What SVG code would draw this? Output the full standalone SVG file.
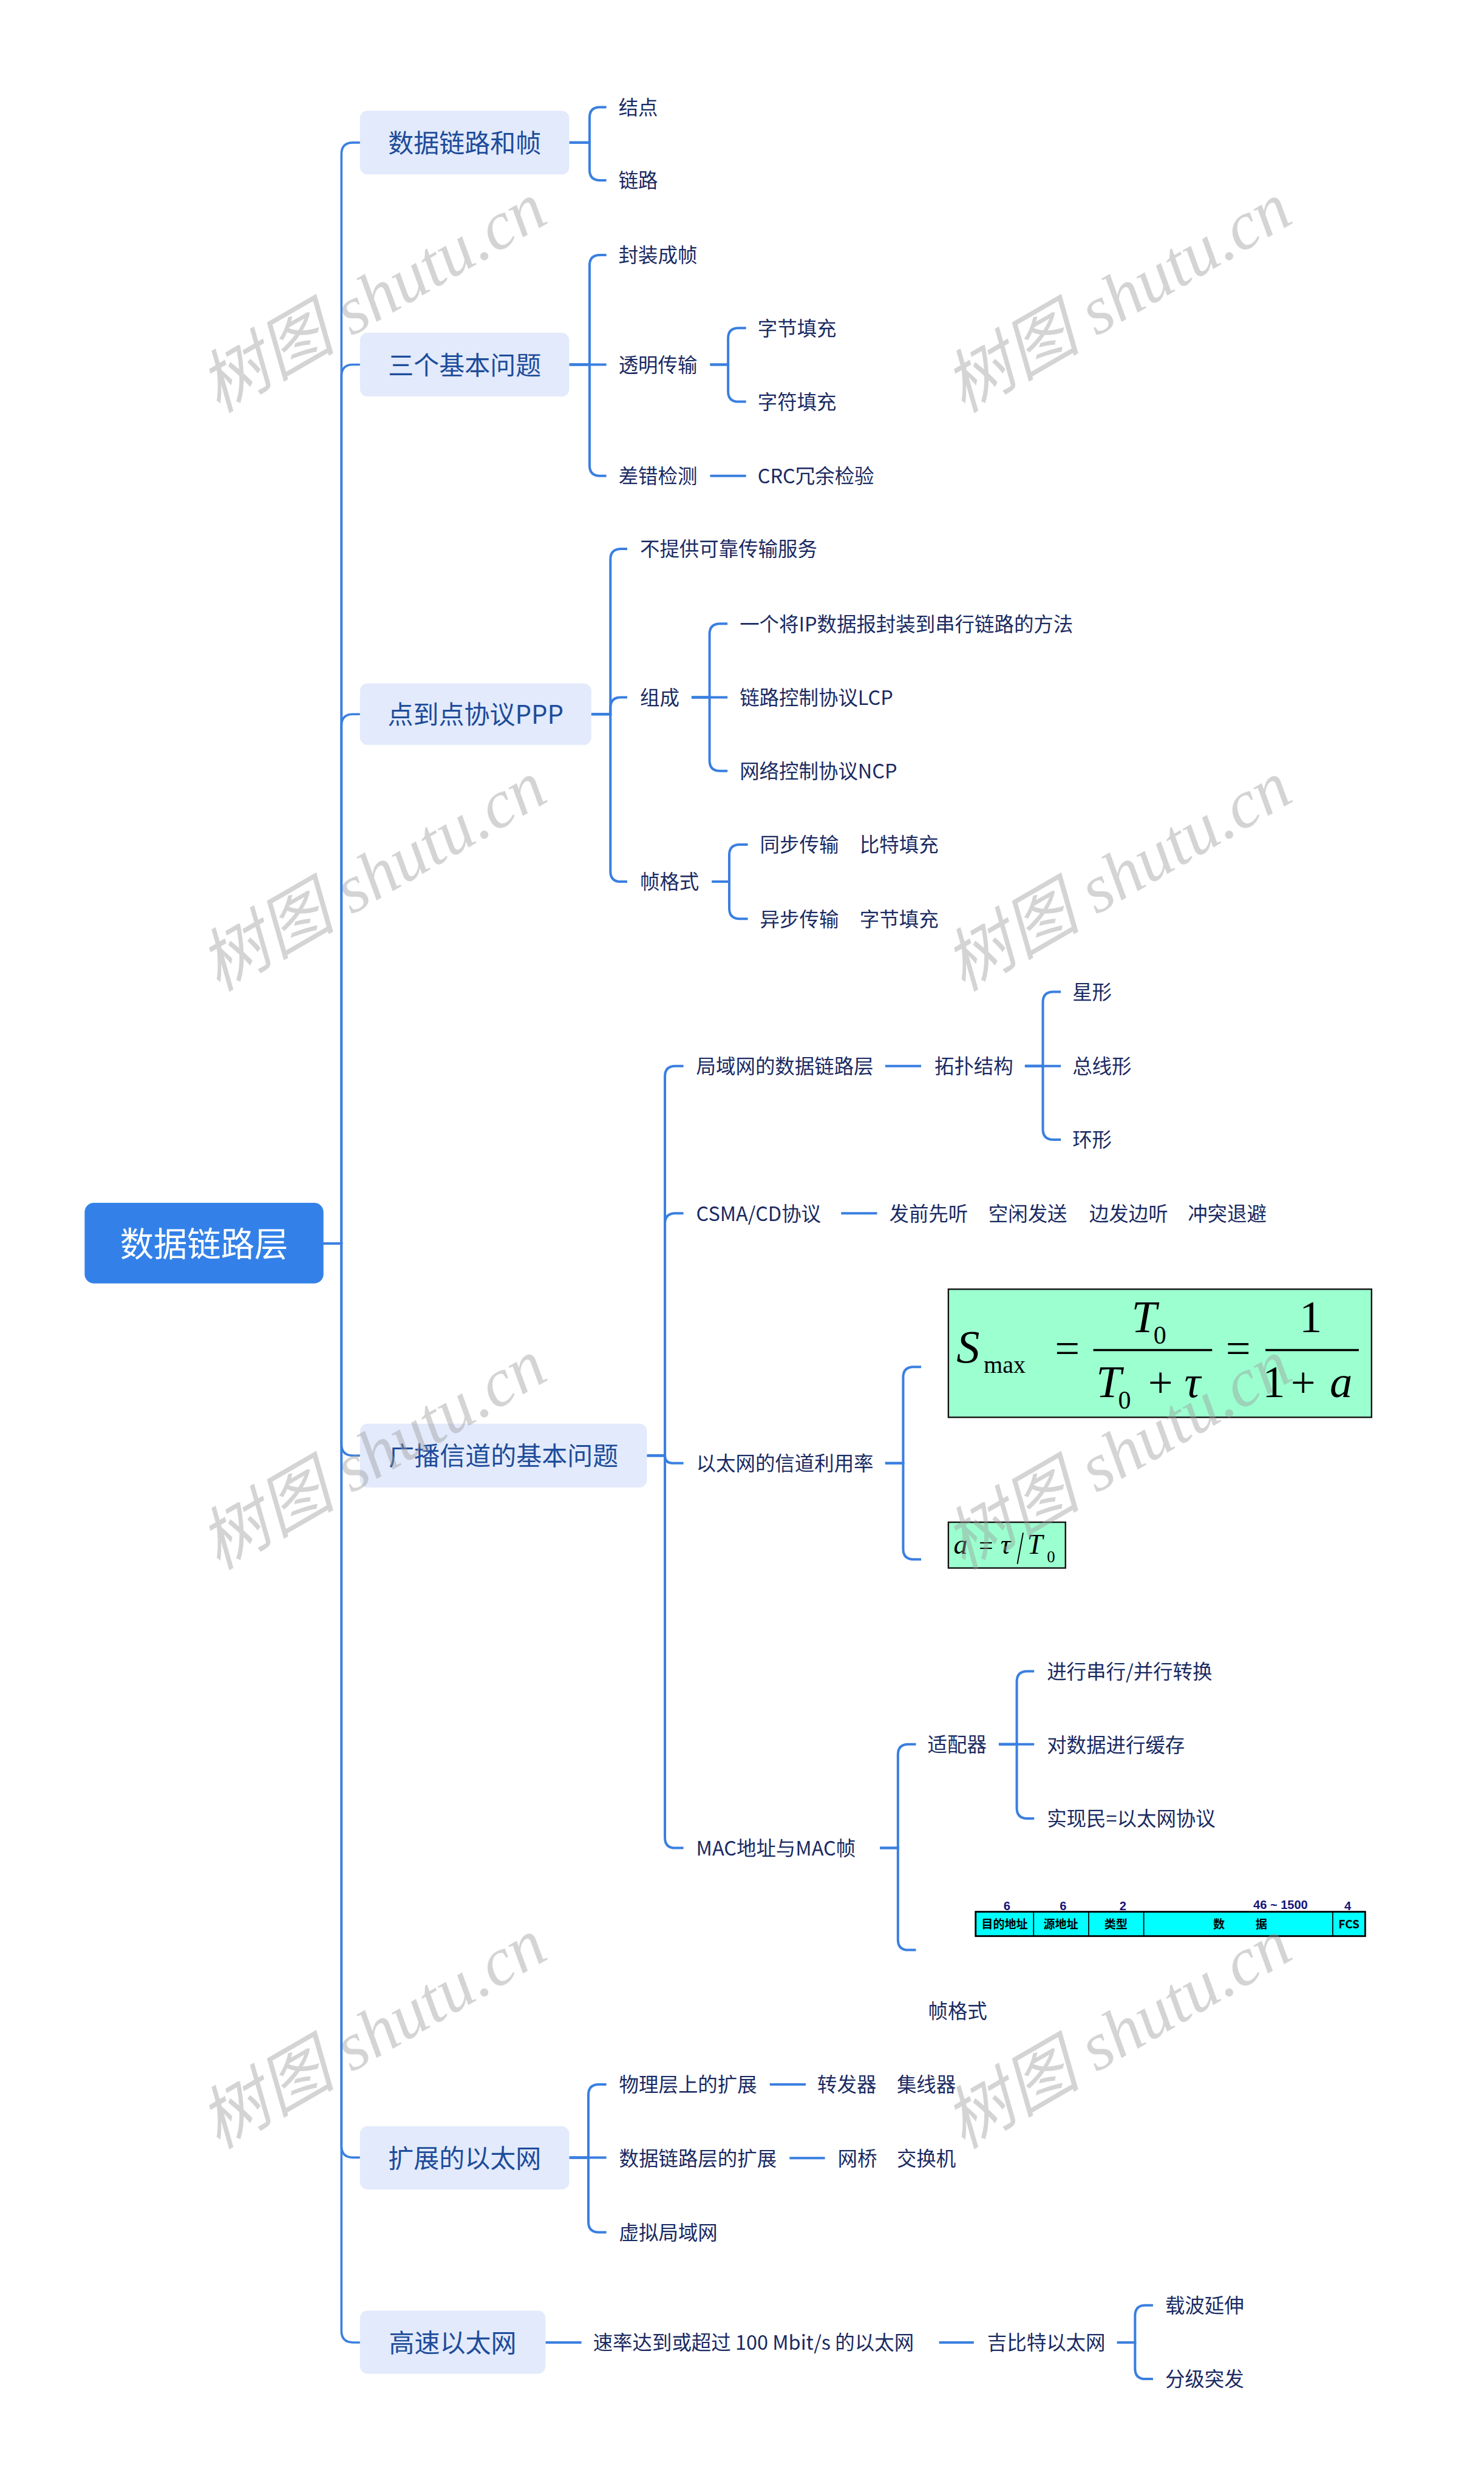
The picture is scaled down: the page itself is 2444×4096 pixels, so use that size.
<svg xmlns="http://www.w3.org/2000/svg" width="2444" height="4096" viewBox="0 0 2444 4096">
<style>
.bg{fill:#ffffff}
.root{fill:#3381E8}
.rt{font-family:"Noto Sans CJK SC","Noto Sans",sans-serif;font-size:58px;fill:#ffffff}
.l1{fill:#E2EAFB}
.l1t{font-family:"Noto Sans CJK SC","Noto Sans",sans-serif;font-size:44px;fill:#1e4c9a}
.t{font-family:"Noto Sans CJK SC","Noto Sans",sans-serif;font-size:34px;fill:#1a2a62}
.c{fill:none;stroke:#3A7FE0;stroke-width:4.2}
.tr{fill:none;stroke:#3A7FE0;stroke-width:3.8}
.fbox{fill:#9CFFD0;stroke:#111111;stroke-width:2.5}
.mi{font-family:"Liberation Serif",serif;font-style:italic;fill:#000}
.mr{font-family:"Liberation Serif",serif;fill:#000}
.bar{stroke:#000;stroke-width:3.5}
.cell{fill:#00FFFF;stroke:#000;stroke-width:3}
.sep{stroke:#000;stroke-width:1.8}
.ct{font-family:"Noto Sans CJK SC",sans-serif;font-weight:bold;font-size:20px;fill:#000;text-anchor:middle}
.num{font-family:"Liberation Sans","Noto Sans CJK SC",sans-serif;font-weight:bold;font-size:21px;fill:#141478}
.wm{font-family:"Liberation Serif","Noto Sans CJK SC",serif;font-style:italic;font-size:118px;fill:#9a9a9a;opacity:0.42;text-anchor:middle}
</style>
<rect class="bg" x="0" y="0" width="2444" height="4096"/>
<g transform="scale(0.9547)">
<g id="connectors">
<path class="tr" d="M558,2145 H589 V266 Q589,246 609,246 H621"/>
<path class="tr" d="M558,2145 H589 V649 Q589,629 609,629 H621"/>
<path class="tr" d="M558,2145 H589 V1252 Q589,1232 609,1232 H621"/>
<path class="tr" d="M558,2145 H589 V2491 Q589,2511 609,2511 H621"/>
<path class="tr" d="M558,2145 H589 V3702 Q589,3722 609,3722 H621"/>
<path class="tr" d="M558,2145 H589 V4021 Q589,4041 609,4041 H621"/>
<path class="c" d="M982,246 H1017 V203 Q1017,185 1035,185 H1046"/>
<path class="c" d="M982,246 H1017 V293 Q1017,311 1035,311 H1046"/>
<path class="c" d="M982,629 H1017 V458 Q1017,440 1035,440 H1046"/>
<path class="c" d="M982,629 H1046"/>
<path class="c" d="M982,629 H1017 V803 Q1017,821 1035,821 H1046"/>
<path class="c" d="M1225,629 H1256 V584 Q1256,566 1274,566 H1287"/>
<path class="c" d="M1225,629 H1256 V675 Q1256,693 1274,693 H1287"/>
<path class="c" d="M1225,821 H1287"/>
<path class="c" d="M1020,1232 H1053 V965 Q1053,947 1071,947 H1082"/>
<path class="c" d="M1020,1232 H1053 V1221 Q1053,1203 1071,1203 H1082"/>
<path class="c" d="M1020,1232 H1053 V1503 Q1053,1521 1071,1521 H1082"/>
<path class="c" d="M1193,1203 H1224 V1094 Q1224,1076 1242,1076 H1255"/>
<path class="c" d="M1193,1203 H1255"/>
<path class="c" d="M1193,1203 H1224 V1312 Q1224,1330 1242,1330 H1255"/>
<path class="c" d="M1228,1521 H1258 V1475 Q1258,1457 1276,1457 H1290"/>
<path class="c" d="M1228,1521 H1258 V1567 Q1258,1585 1276,1585 H1290"/>
<path class="c" d="M1116,2511 H1147 V1857 Q1147,1839 1165,1839 H1179"/>
<path class="c" d="M1116,2511 H1147 V2111 Q1147,2093 1165,2093 H1179"/>
<path class="c" d="M1116,2511 H1147 Q1147,2524 1160,2524 H1179"/>
<path class="c" d="M1116,2511 H1147 V3170 Q1147,3188 1165,3188 H1179"/>
<path class="c" d="M1527,1839 H1589"/>
<path class="c" d="M1768,1839 H1799 V1729 Q1799,1711 1817,1711 H1830"/>
<path class="c" d="M1768,1839 H1830"/>
<path class="c" d="M1768,1839 H1799 V1948 Q1799,1966 1817,1966 H1830"/>
<path class="c" d="M1451,2093 H1513"/>
<path class="c" d="M1527,2524 H1558 V2376 Q1558,2358 1576,2358 H1589"/>
<path class="c" d="M1527,2524 H1558 V2672 Q1558,2690 1576,2690 H1589"/>
<path class="c" d="M1518,3188 H1549 V3027 Q1549,3009 1567,3009 H1580"/>
<path class="c" d="M1518,3188 H1549 V3346 Q1549,3364 1567,3364 H1580"/>
<path class="c" d="M1723,3009 H1754 V2901 Q1754,2883 1772,2883 H1784"/>
<path class="c" d="M1723,3009 H1784"/>
<path class="c" d="M1723,3009 H1754 V3119 Q1754,3137 1772,3137 H1784"/>
<path class="c" d="M982,3722 H1015 V3614 Q1015,3596 1033,3596 H1046"/>
<path class="c" d="M982,3722 H1046"/>
<path class="c" d="M982,3722 H1015 V3833 Q1015,3851 1033,3851 H1046"/>
<path class="c" d="M1328,3596 H1390"/>
<path class="c" d="M1362,3723 H1423"/>
<path class="c" d="M941,4041 H1003"/>
<path class="c" d="M1620,4041 H1680"/>
<path class="c" d="M1927,4041 H1958 V3995 Q1958,3977 1976,3977 H1989"/>
<path class="c" d="M1927,4041 H1958 V4086 Q1958,4104 1976,4104 H1989"/>
</g>

<g id="root"><rect class="root" x="146" y="2075" width="412" height="139" rx="16"/><text class="rt" x="352" y="2167" text-anchor="middle">数据链路层</text></g>

<g id="n1"><rect class="l1" x="621" y="191" width="361" height="110" rx="13"/><text class="l1t" x="801.5" y="263" text-anchor="middle">数据链路和帧</text></g>
<g id="n1a"><text class="t" x="1067" y="198">结点</text></g>
<g id="n1b"><text class="t" x="1067" y="324">链路</text></g>

<g id="n2"><rect class="l1" x="621" y="574" width="361" height="110" rx="13"/><text class="l1t" x="801.5" y="646" text-anchor="middle">三个基本问题</text></g>
<g id="n2a"><text class="t" x="1067" y="453">封装成帧</text></g>
<g id="n2b"><text class="t" x="1067" y="642">透明传输</text></g>
<g id="n2b1"><text class="t" x="1307" y="579">字节填充</text></g>
<g id="n2b2"><text class="t" x="1307" y="706">字符填充</text></g>
<g id="n2c"><text class="t" x="1067" y="834">差错检测</text></g>
<g id="n2c1"><text class="t" x="1307" y="834">CRC冗余检验</text></g>

<g id="n3"><rect class="l1" x="621" y="1179" width="399" height="106" rx="13"/><text class="l1t" x="820.5" y="1249" text-anchor="middle">点到点协议PPP</text></g>
<g id="n3a"><text class="t" x="1104" y="960">不提供可靠传输服务</text></g>
<g id="n3b"><text class="t" x="1104" y="1216">组成</text></g>
<g id="n3b1"><text class="t" x="1276" y="1089">一个将IP数据报封装到串行链路的方法</text></g>
<g id="n3b2"><text class="t" x="1276" y="1216">链路控制协议LCP</text></g>
<g id="n3b3"><text class="t" x="1276" y="1343">网络控制协议NCP</text></g>
<g id="n3c"><text class="t" x="1104" y="1534">帧格式</text></g>
<g id="n3c1"><text class="t" x="1311" y="1470">同步传输 <tspan x="1483">比特填充</tspan></text></g>
<g id="n3c2"><text class="t" x="1311" y="1598">异步传输 <tspan x="1483">字节填充</tspan></text></g>

<g id="n4"><rect class="l1" x="621" y="2456" width="495" height="110" rx="13"/><text class="l1t" x="868.5" y="2528" text-anchor="middle">广播信道的基本问题</text></g>
<g id="n4a"><text class="t" x="1201" y="1852">局域网的数据链路层</text></g>
<g id="n4a1"><text class="t" x="1612" y="1852">拓扑结构</text></g>
<g id="n4a1a"><text class="t" x="1850" y="1724">星形</text></g>
<g id="n4a1b"><text class="t" x="1850" y="1852">总线形</text></g>
<g id="n4a1c"><text class="t" x="1850" y="1979">环形</text></g>
<g id="n4b"><text class="t" x="1201" y="2106">CSMA/CD协议</text></g>
<g id="n4b1"><text class="t" x="1534" y="2106">发前先听 <tspan x="1705">空闲发送</tspan> <tspan x="1879">边发边听</tspan> <tspan x="2049">冲突退避</tspan></text></g>
<g id="n4c"><text class="t" x="1201" y="2537">以太网的信道利用率</text></g>
<g id="n4c1">
<rect class="fbox" x="1636" y="2224" width="730" height="221"/>
<text class="mi" x="1650" y="2350" font-size="80">S</text>
<text class="mr" x="1697" y="2368" font-size="42">max</text>
<text class="mr" x="1841" y="2352" font-size="76" text-anchor="middle">=</text>
<line class="bar" x1="1886" y1="2329" x2="2091" y2="2329"/>
<text class="mi" x="1952" y="2298" font-size="78">T</text>
<text class="mr" x="1990" y="2318" font-size="44">0</text>
<text class="mi" x="1891" y="2410" font-size="78">T</text>
<text class="mr" x="1929" y="2430" font-size="44">0</text>
<text class="mr" x="2002" y="2410" font-size="76" text-anchor="middle">+</text>
<text class="mi" x="2043" y="2410" font-size="78">τ</text>
<text class="mr" x="2136" y="2352" font-size="76" text-anchor="middle">=</text>
<line class="bar" x1="2183" y1="2329" x2="2344" y2="2329"/>
<text class="mr" x="2261" y="2298" font-size="78" text-anchor="middle">1</text>
<text class="mr" x="2178" y="2410" font-size="78">1</text>
<text class="mr" x="2248" y="2410" font-size="76" text-anchor="middle">+</text>
<text class="mi" x="2294" y="2410" font-size="78">a</text>
</g>
<g id="n4c2">
<rect class="fbox" x="1636" y="2626" width="202" height="79"/>
<text class="mi" x="1645" y="2680" font-size="48">a</text>
<text class="mr" x="1701" y="2680" font-size="44" text-anchor="middle">=</text>
<text class="mi" x="1726" y="2680" font-size="48">τ</text>
<line x1="1765" y1="2644" x2="1755" y2="2698" stroke="#000" stroke-width="2"/>
<text class="mi" x="1772" y="2680" font-size="48">T</text>
<text class="mr" x="1806" y="2695" font-size="28">0</text>
</g>
<g id="n4d"><text class="t" x="1201" y="3201">MAC地址与MAC帧</text></g>
<g id="n4d1"><text class="t" x="1600" y="3022">适配器</text></g>
<g id="n4d1a"><text class="t" x="1806" y="2896">进行串行/并行转换</text></g>
<g id="n4d1b"><text class="t" x="1806" y="3023">对数据进行缓存</text></g>
<g id="n4d1c"><text class="t" x="1806" y="3150">实现民=以太网协议</text></g>
<g id="n4d2">
<text class="num" x="1737" y="3295" text-anchor="middle">6</text>
<text class="num" x="1834" y="3295" text-anchor="middle">6</text>
<text class="num" x="1937" y="3295" text-anchor="middle">2</text>
<text class="num" x="2162" y="3293">46 ~ 1500</text>
<text class="num" x="2325" y="3295" text-anchor="middle">4</text>
<rect class="cell" x="1683" y="3298" width="672" height="42"/>
<line class="sep" x1="1783" y1="3298" x2="1783" y2="3340"/>
<line class="sep" x1="1878" y1="3298" x2="1878" y2="3340"/>
<line class="sep" x1="1973" y1="3298" x2="1973" y2="3340"/>
<line class="sep" x1="2299" y1="3298" x2="2299" y2="3340"/>
<text class="ct" x="1733" y="3327">目的地址</text>
<text class="ct" x="1830" y="3327">源地址</text>
<text class="ct" x="1925" y="3327">类型</text>
<text class="ct" x="2105" y="3327">数 <tspan x="2176">据</tspan></text>
<text class="ct" x="2327" y="3327">FCS</text>
<text class="t" x="1601" y="3482">帧格式</text>
</g>

<g id="n5"><rect class="l1" x="621" y="3668" width="361" height="109" rx="13"/><text class="l1t" x="801.5" y="3739" text-anchor="middle">扩展的以太网</text></g>
<g id="n5a"><text class="t" x="1068" y="3609">物理层上的扩展</text></g>
<g id="n5a1"><text class="t" x="1410" y="3609">转发器 <tspan x="1547">集线器</tspan></text></g>
<g id="n5b"><text class="t" x="1068" y="3736">数据链路层的扩展</text></g>
<g id="n5b1"><text class="t" x="1445" y="3736">网桥 <tspan x="1547">交换机</tspan></text></g>
<g id="n5c"><text class="t" x="1068" y="3864">虚拟局域网</text></g>

<g id="n6"><rect class="l1" x="621" y="3986" width="320" height="109" rx="13"/><text class="l1t" x="781" y="4058" text-anchor="middle">高速以太网</text></g>
<g id="n6a"><text class="t" x="1023" y="4054">速率达到或超过 100 Mbit/s 的以太网</text></g>
<g id="n6a1"><text class="t" x="1703" y="4054">吉比特以太网</text></g>
<g id="n6a1a"><text class="t" x="2010" y="3990">载波延伸</text></g>
<g id="n6a1b"><text class="t" x="2010" y="4117">分级突发</text></g>

<g id="watermarks">
<text class="wm" transform="translate(643,513) rotate(-30)" x="0" y="40">树图 shutu.cn</text>
<text class="wm" transform="translate(1928,513) rotate(-30)" x="0" y="40">树图 shutu.cn</text>
<text class="wm" transform="translate(643,1511) rotate(-30)" x="0" y="40">树图 shutu.cn</text>
<text class="wm" transform="translate(1928,1511) rotate(-30)" x="0" y="40">树图 shutu.cn</text>
<text class="wm" transform="translate(643,2509) rotate(-30)" x="0" y="40">树图 shutu.cn</text>
<text class="wm" transform="translate(1928,2509) rotate(-30)" x="0" y="40">树图 shutu.cn</text>
<text class="wm" transform="translate(643,3508) rotate(-30)" x="0" y="40">树图 shutu.cn</text>
<text class="wm" transform="translate(1928,3508) rotate(-30)" x="0" y="40">树图 shutu.cn</text>
</g>
</g>
</svg>
